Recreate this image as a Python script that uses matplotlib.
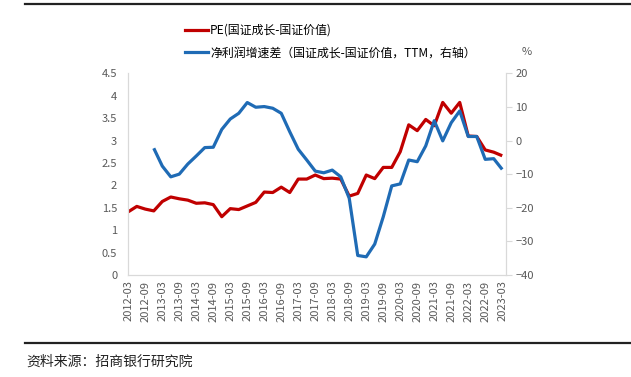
import numpy as np
import matplotlib.pyplot as plt
from matplotlib.lines import Line2D

plt.rcParams['font.family'] = ['Noto Sans CJK SC', 'DejaVu Sans']

# 季度数据 2012-03 ... 2023-03
quarters = ['2012-03', '2012-06', '2012-09', '2012-12', '2013-03', '2013-06', '2013-09', '2013-12',
            '2014-03', '2014-06', '2014-09', '2014-12', '2015-03', '2015-06', '2015-09', '2015-12',
            '2016-03', '2016-06', '2016-09', '2016-12', '2017-03', '2017-06', '2017-09', '2017-12',
            '2018-03', '2018-06', '2018-09', '2018-12', '2019-03', '2019-06', '2019-09', '2019-12',
            '2020-03', '2020-06', '2020-09', '2020-12', '2021-03', '2021-06', '2021-09', '2021-12',
            '2022-03', '2022-06', '2022-09', '2022-12', '2023-03']

pe_diff = [1.41, 1.53, 1.47, 1.43, 1.64, 1.74, 1.70, 1.67, 1.60, 1.61, 1.57, 1.30, 1.48, 1.46, 1.54,
           1.62, 1.85, 1.84, 1.96, 1.84, 2.14, 2.14, 2.23, 2.15, 2.16, 2.14, 1.76, 1.82, 2.23, 2.15,
           2.40, 2.40, 2.75, 3.35, 3.22, 3.47, 3.33, 3.85, 3.61, 3.85, 3.10, 3.09, 2.79, 2.74, 2.66]

profit_diff = [np.nan, np.nan, np.nan, -2.3, -7.6, -10.8, -10.0, -7.0, -4.6, -2.1, -2.0, 3.3, 6.4,
               8.1, 11.3, 9.9, 10.1, 9.6, 8.1, 2.6, -2.6, -5.8, -9.1, -9.6, -8.8, -10.8, -17.2, -34.2,
               -34.6, -30.8, -22.7, -13.5, -12.9, -5.8, -6.3, -1.6, 5.9, -0.1, 5.3, 8.8, 1.2, 1.2,
               -5.6, -5.4, -8.6]

red = '#C00000'
blue = '#1F6BB5'
grey = '#595959'

fig = plt.figure(figsize=(6.31, 3.77), dpi=100)
ax = fig.add_axes([0.2033, 0.2706, 0.5980, 0.5350])
ax2 = ax.twinx()

x = np.arange(len(quarters))
ax.plot(x, pe_diff, color=red, lw=2.3, solid_capstyle='butt')
ax2.plot(x, profit_diff, color=blue, lw=2.3, solid_capstyle='butt')

ax.set_xlim(0, 44.4)
ax.set_ylim(0, 4.5)
ax2.set_ylim(-40, 20)
ax.set_yticks(np.arange(0, 4.51, 0.5))
ax.set_yticklabels(['0', '0.5', '1', '1.5', '2', '2.5', '3', '3.5', '4', '4.5'])
ax2.set_yticks(np.arange(-40, 21, 10))

ax.set_xticks(x[::2])
ax.set_xticklabels(quarters[::2], rotation=90)

for a in (ax, ax2):
    a.spines['top'].set_visible(False)
    a.spines['left'].set_color('#D9D9D9')
    a.spines['right'].set_color('#D9D9D9')
    a.spines['bottom'].set_color('#D9D9D9')
ax.tick_params(axis='y', length=0, pad=8, labelsize=8, labelcolor=grey)
ax.tick_params(axis='x', length=0, pad=4, labelsize=8, labelcolor=grey)
ax2.tick_params(axis='y', length=4, color='#D9D9D9', pad=3, labelsize=8, labelcolor=grey)

handles = [Line2D([], [], color=red, lw=2.3), Line2D([], [], color=blue, lw=2.3)]
labels = ['PE(国证成长-国证价值)', '净利润增速差（国证成长-国证价值，TTM，右轴）']
fig.legend(handles, labels, loc='upper left', bbox_to_anchor=(185 / 631, 1 - 24 / 377),
           frameon=False, fontsize=8.6, handlelength=1.9, handletextpad=0.2,
           labelspacing=0.8, borderaxespad=0, borderpad=0)

fig.text(522 / 631, 1 - 52 / 377, '%', fontsize=8, color=grey, ha='left', va='center')

# 上下两条黑线
fig.add_artist(Line2D([25 / 631, 1], [1 - 4 / 377, 1 - 4 / 377], color='#222222', lw=1.6))
fig.add_artist(Line2D([25 / 631, 1], [1 - 343 / 377, 1 - 343 / 377], color='#222222', lw=1.6))
fig.text(26 / 631, 1 - 362 / 377, '资料来源：招商银行研究院', fontsize=10, color='#222222',
         ha='left', va='center')

fig.savefig('out.png', dpi=100)
